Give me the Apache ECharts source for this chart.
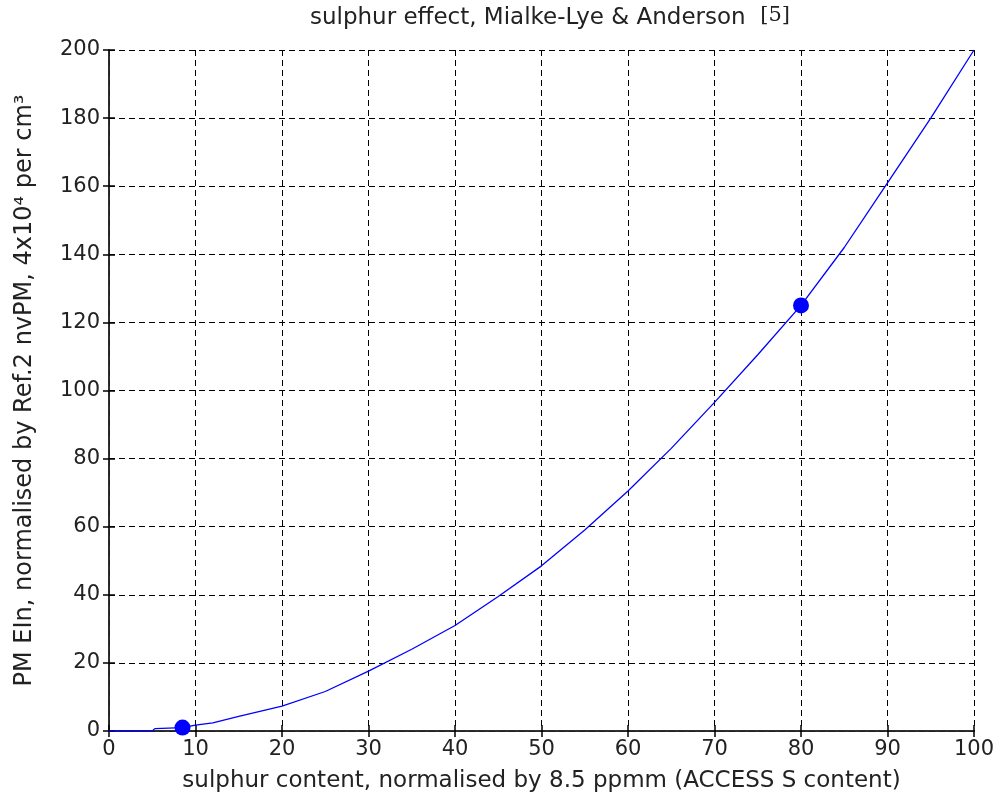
<!DOCTYPE html>
<html>
<head>
<meta charset="utf-8">
<script src="https://cdn.jsdelivr.net/npm/echarts@6/dist/echarts.min.js"></script>
<style>
html,body{margin:0;padding:0;background:#fff;}
#chart{width:1000px;height:805px;}
</style>
</head>
<body>
<div id="chart"></div>
<script>
// Data
var sulphurX = [0, 5, 5.3, 8.5, 10, 12, 15, 20, 25, 30, 35, 40, 45, 50, 55, 60, 65, 70, 75, 80, 85, 90, 95, 100];
var pmEIn    = [0, 0, 0.7, 1.0, 1.7, 2.4, 4.3, 7.3, 11.6, 17.6, 24, 31, 39.5, 48.5, 59, 70.5, 83, 96.5, 110.5, 125, 142, 161, 180, 200];
var markX = [8.5, 80];
var markY = [1.0, 125];
var titleText = 'sulphur effect, Mialke-Lye & Anderson';
var titleRef = '[5]';
var xName = 'sulphur content, normalised by 8.5 ppmm (ACCESS S content)';
var yName = 'PM EIn, normalised by Ref.2 nvPM, 4x10\u2074 per cm\u00B3';

var lineData = sulphurX.map(function (x, i) { return [x, pmEIn[i]]; });
var markData = markX.map(function (x, i) { return [x, markY[i]]; });

var FONT = 'DejaVu Sans';
var TXT = '#222';
var chart = echarts.init(document.getElementById('chart'), null, {renderer: 'canvas'});
var gridStyle = {show: true, lineStyle: {color: '#000', width: 1, type: [6, 4]}};
var axLine = {show: true, lineStyle: {color: '#222', width: 1.5}};

chart.setOption({
  animation: false,
  backgroundColor: '#fff',
  grid: {left: 109, right: 26, top: 50, bottom: 74, containLabel: false},
  graphic: [{
    type: 'text',
    x: 550, y: 18,
    style: {
      text: titleText + '  {r|' + titleRef + '}',
      font: '23px "DejaVu Sans"',
      fill: TXT,
      textAlign: 'center',
      textVerticalAlign: 'middle',
      rich: {r: {fontFamily: 'DejaVu Serif', fontSize: 21, fill: TXT, padding: [0, 0, 4, 0]}}
    }
  }],
  xAxis: [{
    type: 'value', min: 0, max: 100, interval: 10, position: 'bottom',
    axisLine: axLine,
    axisTick: {show: true, inside: true, length: 6, lineStyle: {color: '#000', width: 1.5}},
    axisLabel: {color: TXT, fontFamily: FONT, fontSize: 21, margin: 8},
    splitLine: gridStyle,
    name: xName, nameLocation: 'middle', nameGap: 39,
    nameTextStyle: {color: TXT, fontFamily: FONT, fontSize: 23}
  }, {
    type: 'value', min: 0, max: 100, interval: 10, position: 'top',
    axisLine: axLine,
    axisTick: {show: true, inside: true, length: 6, lineStyle: {color: '#000', width: 1.5}},
    axisLabel: {show: false}, splitLine: {show: false}
  }],
  yAxis: [{
    type: 'value', min: 0, max: 200, interval: 20, position: 'left',
    axisLine: axLine,
    axisTick: {show: true, inside: true, length: 6, lineStyle: {color: '#000', width: 1.5}},
    axisLabel: {color: TXT, fontFamily: FONT, fontSize: 21, margin: 9},
    splitLine: gridStyle,
    name: yName, nameLocation: 'middle', nameGap: 72, nameRotate: 90,
    nameTextStyle: {color: TXT, fontFamily: FONT, fontSize: 24}
  }, {
    type: 'value', min: 0, max: 200, interval: 20, position: 'right',
    axisLine: axLine,
    axisTick: {show: true, inside: true, length: 6, lineStyle: {color: '#000', width: 1.5}},
    axisLabel: {show: false}, splitLine: {show: false}
  }],
  series: [{
    type: 'line', xAxisIndex: 0, yAxisIndex: 0,
    data: lineData, showSymbol: false, smooth: false,
    lineStyle: {color: '#0000ff', width: 1.3}, z: 3
  }, {
    type: 'scatter', xAxisIndex: 0, yAxisIndex: 0,
    data: markData, symbol: 'circle', symbolSize: 16,
    itemStyle: {color: '#0000ff', opacity: 1}, z: 4
  }]
});
</script>
</body>
</html>
